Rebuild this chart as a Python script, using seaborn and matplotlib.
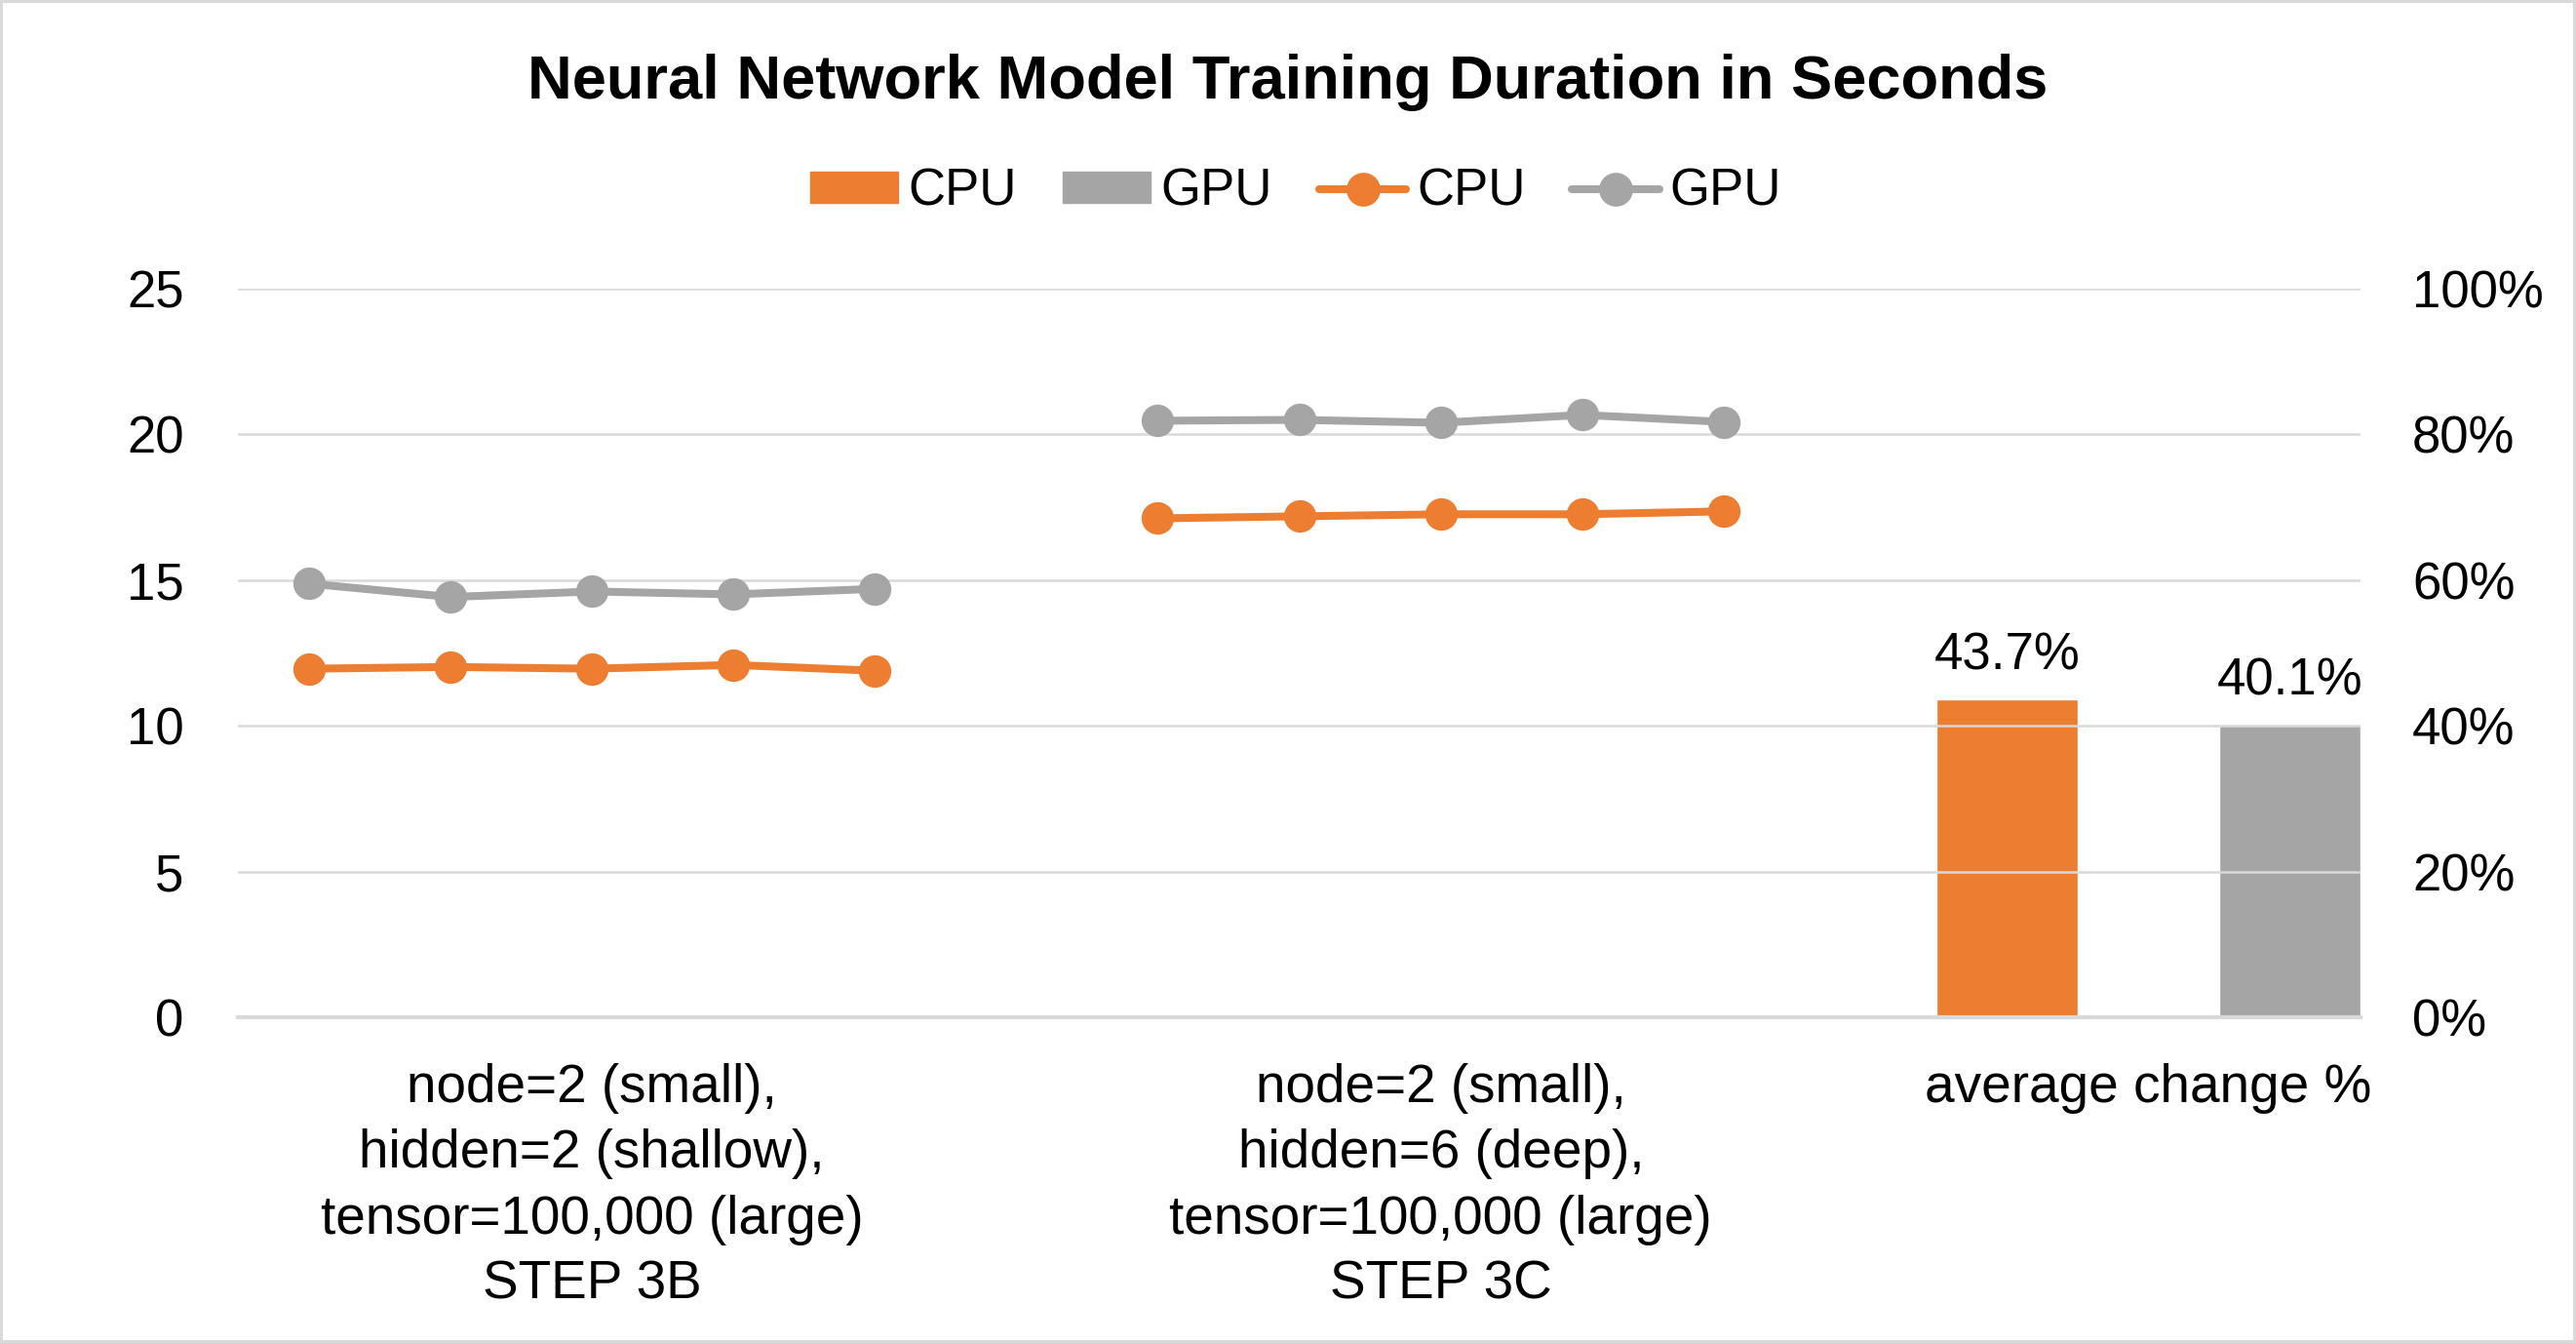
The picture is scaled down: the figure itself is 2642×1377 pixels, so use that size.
import pandas as pd
import matplotlib
matplotlib.use("Agg")
import matplotlib.pyplot as plt
from matplotlib.patches import Patch
from matplotlib.lines import Line2D
import seaborn as sns

# training duration in seconds, 5 runs per step
runs = [1, 2, 3, 4, 5]
cpu_3b = [11.96, 12.02, 11.96, 12.09, 11.89]
gpu_3b = [14.88, 14.42, 14.61, 14.51, 14.70]
cpu_3c = [17.12, 17.19, 17.26, 17.26, 17.36]
gpu_3c = [20.47, 20.50, 20.40, 20.67, 20.43]

# average change %, secondary axis
devices = ["CPU", "GPU"]
avg_change = [43.7, 40.1]

cat_labels = [
    "node=2 (small),\nhidden=2 (shallow),\ntensor=100,000 (large)\nSTEP 3B",
    "node=2 (small),\nhidden=6 (deep),\ntensor=100,000 (large)\nSTEP 3C",
    "average change %",
]

ORANGE = "#ED7D31"
GRAY = "#A5A5A5"
GRID = "#D9D9D9"

# category slots on the axis (6 slots per step, bars in the last group)
step_offset = {"3B": 0, "3C": 6}
bar_slots = [12, 14]

rows = []
for step, cpu, gpu in [("3B", cpu_3b, gpu_3b), ("3C", cpu_3c, gpu_3c)]:
    for r, c, g in zip(runs, cpu, gpu):
        pos = step_offset[step] + r - 1
        rows.append({"pos": pos, "sec": c, "device": "CPU", "step": step})
        rows.append({"pos": pos, "sec": g, "device": "GPU", "step": step})
df = pd.DataFrame(rows)
bars = pd.DataFrame({"pos": bar_slots, "pct": avg_change, "device": devices})

sns.set_theme(style="white")
plt.rcParams["font.family"] = ["Liberation Sans", "DejaVu Sans"]
plt.rcParams["text.color"] = "black"
plt.rcParams["xtick.color"] = "black"
plt.rcParams["ytick.color"] = "black"

fig = plt.figure(figsize=(26.42, 13.77), dpi=100, facecolor="white",
                 edgecolor=GRID, linewidth=4)
ax = fig.add_axes([0.0924, 0.2426, 0.824, 0.5424])
ax2 = ax.twinx()

# bars first on secondary axis
sns.barplot(data=bars, x="pos", y="pct", hue="device", palette=[ORANGE, GRAY],
            native_scale=True, width=0.5, legend=False, ax=ax2, saturation=1)
for cont in ax2.containers:
    ax2.bar_label(cont, fmt="%.1f%%", padding=14, fontsize=38, color="black")

sns.lineplot(data=df, x="pos", y="sec", hue="device", units="step",
             estimator=None, palette=[ORANGE, GRAY], marker="o",
             markersize=24, markeredgewidth=0, linewidth=5.8,
             legend=False, ax=ax)

ax.set_zorder(ax2.get_zorder() + 1)
ax.patch.set_visible(False)

ax.set_xlim(-0.5, 14.5)
ax.set_ylim(0, 25)
ax.set_yticks(range(0, 26, 5))
ax2.set_ylim(0, 100)
ax2.set_yticks(range(0, 101, 20))
ax2.set_yticklabels([f"{v}%" for v in range(0, 101, 20)])

ax.set_xticks([2, 8, 13])
ax.set_xticklabels(cat_labels, fontsize=39.5, linespacing=1.38)
ax.set_xlabel("")
ax.set_ylabel("")
ax2.set_ylabel("")
ax.tick_params(axis="x", length=0, pad=34)
ax.tick_params(axis="y", length=0, pad=40, labelsize=38)
ax2.tick_params(axis="y", length=0, pad=38, labelsize=38)

ax.yaxis.grid(True, color=GRID, linewidth=1.8)
ax.set_axisbelow(True)
for a in (ax, ax2):
    for s in a.spines.values():
        s.set_visible(False)
ax2.spines["bottom"].set_visible(True)
ax2.spines["bottom"].set_color(GRID)
ax2.spines["bottom"].set_linewidth(3)

fig.suptitle("Neural Network Model Training Duration in Seconds",
             fontsize=45.5, fontweight="bold", y=0.96, color="black")

handles = [
    Patch(color=ORANGE, label="CPU"),
    Patch(color=GRAY, label="GPU"),
    Line2D([], [], color=ORANGE, marker="o", markersize=24, linewidth=5.8, label="CPU"),
    Line2D([], [], color=GRAY, marker="o", markersize=24, linewidth=5.8, label="GPU"),
]
fig.legend(handles=handles, loc="center", bbox_to_anchor=(0.503, 0.857), ncol=4,
           frameon=False, fontsize=38, handlelength=1.7, handleheight=0.55,
           handletextpad=0.2, columnspacing=0.9)

fig.savefig("out.png", dpi=100)
